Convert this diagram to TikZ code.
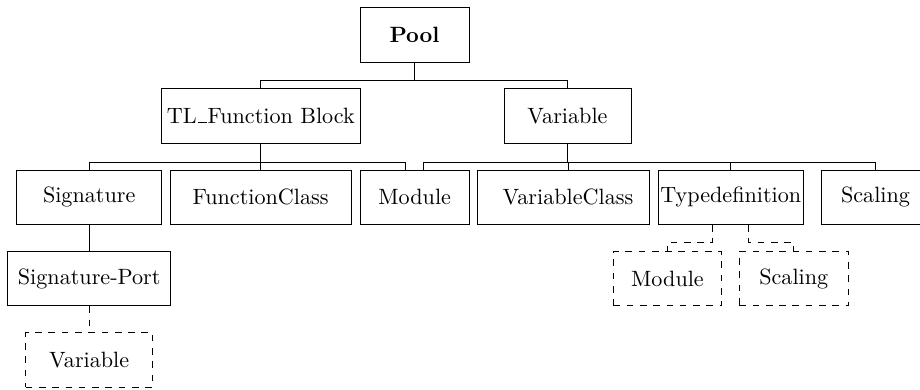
\documentclass[tikz,border=0pt]{standalone}
\usetikzlibrary{calc}
\newcommand{\myus}{\leavevmode\kern.06em\vbox{\hrule width.42em}\kern.02em}
\tikzset{
  bx/.style={draw, rectangle, inner sep=0pt, minimum width=#1*0.4515pt, minimum height=24.6pt},
  dbx/.style={bx=#1, dashed},
  conn/.style={draw, line width=0.4pt},
  dconn/.style={conn, dashed}
}
\begin{document}
\begin{tikzpicture}[x=0.4515pt, y=-0.4515pt]
\path[use as bounding box, clip] (0,0) rectangle (920,390);
% level 0
\node[bx=109, minimum height=24.85pt] (pool) at (414.5,34.5) {\textbf{Pool}};
% level 1
\node[bx=198.3] (tl) at (260.8,115.8) {TL\myus Function Block};
\node[bx=127] (var) at (567.5,115.8) {Variable};
% level 2
\node[bx=145] (sig) at (89.2,197.2) {Signature};
\node[bx=180.7] (fc) at (260.7,197.2) {FunctionClass};
\node[bx=108.7] (mod) at (414.7,197.2) {Module};
\node[bx=172] (vc) at (563.3,197.2) {\hspace*{4.2pt}VariableClass};
\node[bx=145] (td) at (730.8,197.2) {Typedefinition};
\node[bx=109] (sc) at (875.5,197.2) {Scaling};
% level 3
\node[bx=163] (sp) at (89.2,278.7) {Signature-Port};
\node[dbx=108.3] (m2) at (667.5,278.7) {Module};
\node[dbx=109] (s2) at (793.8,278.7) {Scaling};
% level 4
\node[dbx=127] (v2) at (89.2,360) {Variable};
% connectors
\draw[conn] (pool.south) -- ++(0,18) -| (tl.north);
\draw[conn] (pool.south) -- ++(0,18) -| (var.north);
\draw[conn] (tl.south) -- ++(0,18.7) -| (sig.north);
\draw[conn] (tl.south) -- ++(0,18.7) -| (fc.north);
\draw[conn] (tl.south) -- ++(0,18.7) -| ([xshift=-4.06pt]mod.north);
\draw[conn] (var.south) -- ++(0,18.7) -| ([xshift=3.9pt]mod.north);
\draw[conn] (var.south) -- ++(0,18.7) -| ([xshift=2.1pt]vc.north);
\draw[conn] (var.south) -- ++(0,18.7) -| (td.north);
\draw[conn] (var.south) -- ++(0,18.7) -| (sc.north);
\draw[conn] (sig.south) -- (sp.north);
\draw[dconn] (sp.south) -- (v2.north);
\draw[dconn] ([xshift=-8.17pt]td.south) -- ++(0,17.7) -| (m2.north);
\draw[dconn] ([xshift=8.08pt]td.south) -- ++(0,17.7) -| (s2.north);
\end{tikzpicture}
\end{document}
